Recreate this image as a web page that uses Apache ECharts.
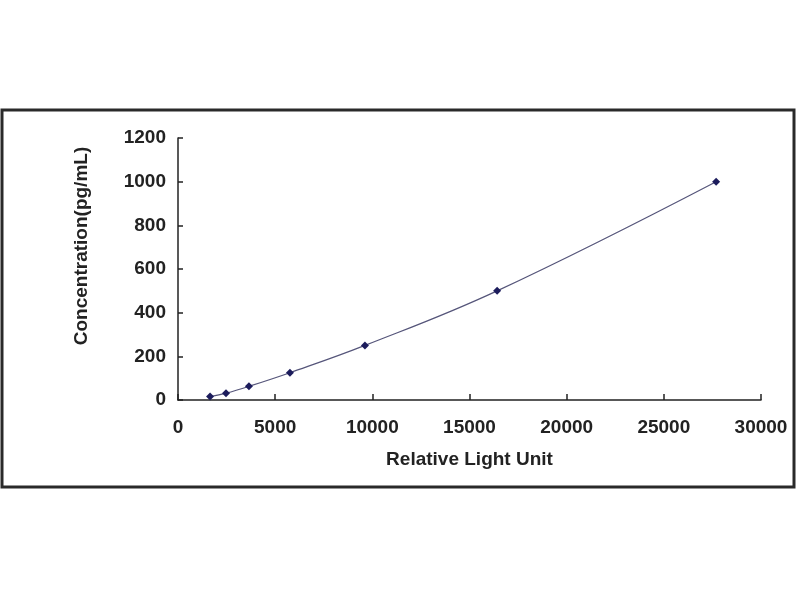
<!DOCTYPE html>
<html>
<head>
<meta charset="utf-8">
<script src="https://cdn.jsdelivr.net/npm/echarts@6/dist/echarts.min.js"></script>
<style>html,body{margin:0;padding:0;background:#fff}#c{width:800px;height:600px}</style>
</head>
<body>
<div id="c"></div>
<script>
var rlu = [1650, 2470, 3650, 5760, 9620, 16420, 27690];
var conc = [15.6, 31.25, 62.5, 125, 250, 500, 1000];
var xTicks = [0, 5000, 10000, 15000, 20000, 25000, 30000];
var yTicks = [0, 200, 400, 600, 800, 1000, 1200];

var pts = rlu.map(function (v, i) { return [v, conc[i]]; });
var chart = echarts.init(document.getElementById('c'));
var font = 'Arial, "Liberation Sans", sans-serif';
chart.setOption({
  backgroundColor: '#fff',
  animation: false,
  graphic: [{
    type: 'rect',
    shape: { x: 2, y: 110, width: 792, height: 377 },
    style: { fill: 'none', stroke: '#2a2a2a', lineWidth: 3 },
    z: -1
  }],
  grid: { left: 178, right: 39, top: 138, bottom: 200 },
  xAxis: {
    type: 'value', min: xTicks[0], max: xTicks[xTicks.length - 1], interval: 5000,
    name: 'Relative Light Unit', nameLocation: 'middle', nameGap: 50,
    nameTextStyle: { fontFamily: font, fontWeight: 'bold', fontSize: 19, color: '#222' },
    axisLine: { lineStyle: { color: '#222', width: 1.5 } },
    axisTick: { inside: true, length: 6, lineStyle: { color: '#222', width: 1.5 } },
    axisLabel: { margin: 18, fontFamily: font, fontWeight: 'bold', fontSize: 19, color: '#222',
      formatter: function (v) { return String(v); } },
    splitLine: { show: false }
  },
  yAxis: {
    type: 'value', min: yTicks[0], max: yTicks[yTicks.length - 1], interval: 200,
    name: 'Concentration(pg/mL)', nameLocation: 'middle', nameGap: 87,
    nameTextStyle: { fontFamily: font, fontWeight: 'bold', fontSize: 19, color: '#222', padding: [0, 0, 0, 46] },
    axisLine: { show: true, lineStyle: { color: '#222', width: 1.5 } },
    axisTick: { show: true, inside: true, length: 5, lineStyle: { color: '#222', width: 1.5 } },
    axisLabel: { margin: 12, fontFamily: font, fontWeight: 'bold', fontSize: 19, color: '#222',
      formatter: function (v) { return String(v); } },
    splitLine: { show: false }
  },
  series: [{
    type: 'line',
    data: pts,
    smooth: 0.4,
    symbol: 'diamond',
    symbolSize: 8,
    itemStyle: { color: '#1c1c5c' },
    lineStyle: { color: '#55557a', width: 1.2 }
  }]
});
</script>
</body>
</html>
